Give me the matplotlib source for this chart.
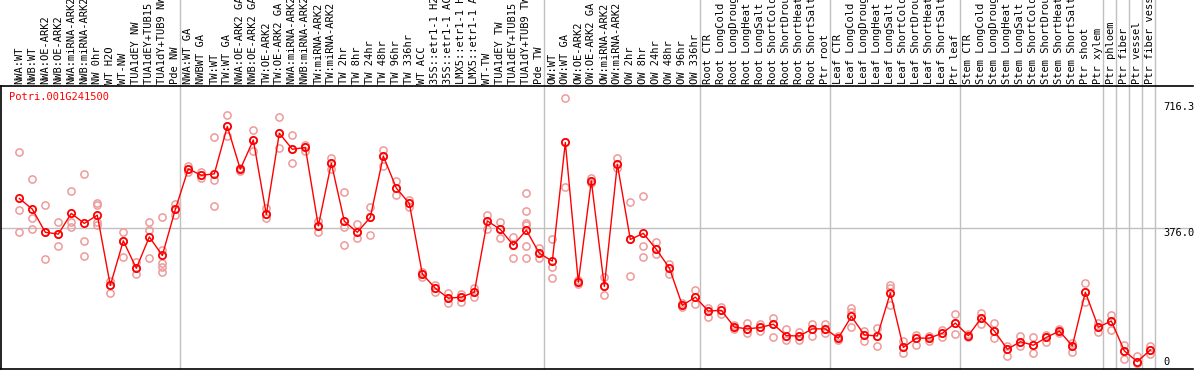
import numpy as np
import matplotlib
matplotlib.use("Agg")
import matplotlib.pyplot as plt
import matplotlib.transforms as mtransforms

# Sample labels (one per column)
labels = [
    "NWA:WT", "NWB:WT", "NWA:OE-ARK2", "NWB:OE-ARK2", "NWA:miRNA-ARK2",
    "NWB:miRNA-ARK2", "NW 0hr", "WT H2O", "WT-NW", "TUA1dEY NW",
    "TUA1dEY+TUB15 NW", "TUA1dY+TUB9 NW", "Pde NW",
    "NWA:WT GA", "NWBWT GA", "TW:WT", "TW:WT GA", "NWA:OE-ARK2 GA",
    "NWB:OE-ARK2 GA", "TW:OE-ARK2", "TW:OE-ARK2 GA", "NWA:miRNA-ARK2 GA",
    "NWB:miRNA-ARK2 GA", "TW:miRNA-ARK2", "TW:miRNA-ARK2 GA", "TW 2hr",
    "TW 8hr", "TW 24hr", "TW 48hr", "TW 96hr", "TW 336hr", "WT ACC",
    "35S::etr1-1 H2O", "35S::etr1-1 ACC", "LMX5::etr1-1 H2O",
    "LMX5::etr1-1 ACC", "WT-TW", "TUA1dEY TW", "TUA1dEY+TUB15 TW",
    "TUA1dY+TUB9 TW", "Pde TW",
    "OW:WT", "OW:WT GA", "OW:OE-ARK2", "OW:OE-ARK2 GA", "OW:miRNA-ARK2",
    "OW:miRNA-ARK2 GA", "OW 2hr", "OW 8hr", "OW 24hr", "OW 48hr", "OW 96hr",
    "OW 336hr",
    "Root CTR", "Root LongCold", "Root LongDrought", "Root LongHeat",
    "Root LongSalt", "Root ShortCold", "Root ShortDrought", "Root ShortHeat",
    "Root ShortSalt", "Ptr root",
    "Leaf CTR", "Leaf LongCold", "Leaf LongDrought", "Leaf LongHeat",
    "Leaf LongSalt", "Leaf ShortCold", "Leaf ShortDrought", "Leaf ShortHeat",
    "Leaf ShortSalt", "Ptr leaf",
    "Stem CTR", "Stem LongCold", "Stem LongDrought", "Stem LongHeat",
    "Stem LongSalt", "Stem ShortCold", "Stem ShortDrought", "Stem ShortHeat",
    "Stem ShortSalt", "Ptr shoot", "Ptr xylem",
    "Ptr phloem", "Ptr fiber", "Ptr vessel", "Ptr fiber vessel",
]

# number of columns in each block (separated by grey lines)
group_sizes = [13, 28, 12, 10, 10, 11, 1, 1, 1, 1]

# mean expression per sample
means = [
    459, 429, 364, 359, 417, 389, 412, 215, 340, 263, 351, 299, 428,
    542, 524, 528, 661, 541, 623, 414, 642, 597, 602, 382, 558, 395, 364,
    406, 578, 488, 445, 247, 207, 179, 182, 196, 396, 372, 328, 370, 305,
    283, 616, 224, 508, 212, 555, 344, 361, 316, 264, 159, 182,
    143, 145, 98, 93, 97, 106, 74, 73, 93, 93,
    67, 128, 76, 73, 194, 41, 67, 67, 81, 109,
    74, 124, 87, 36, 57, 47, 69, 87, 45, 196, 98,
    115, 31, 1, 34,
]

# individual replicates per sample
replicates = [
    [588, 426, 364], [513, 403, 372], [440, 288, 364], [392, 325, 359],
    [480, 394, 380], [527, 340, 297], [445, 441, 394, 384], [228, 193, 215],
    [364, 294, 340], [281, 246, 263], [392, 370, 292],
    [407, 314, 277, 267, 252], [443, 412, 428],
    [534, 542, 550], [524, 533, 516], [631, 511, 437], [692, 634, 661],
    [541, 544, 536], [650, 593, 623], [431, 403, 414], [687, 600, 642],
    [637, 558, 597], [609, 593, 602], [396, 366, 382], [572, 542, 558],
    [476, 380, 328], [386, 347, 364], [435, 356, 406], [594, 551, 578],
    [509, 468, 488], [455, 435, 445], [253, 239, 247], [216, 197, 207],
    [193, 165, 179], [190, 169, 182], [207, 183, 196], [412, 372, 396],
    [392, 349, 372], [352, 291, 328], [473, 424, 389, 325, 291, 384],
    [319, 291, 305],
    [345, 267, 235], [740, 492, 616], [224, 230, 219], [515, 502, 508],
    [239, 188, 212], [572, 555, 544], [448, 241, 344], [465, 325, 294],
    [337, 302, 316], [275, 246, 264], [165, 154, 159], [202, 164, 182],
    [151, 125, 143], [155, 135, 145], [104, 93, 98], [109, 81, 93],
    [88, 107, 97], [123, 69, 106], [93, 62, 74], [85, 62, 73],
    [107, 73, 93], [107, 81, 93],
    [73, 62, 67], [151, 141, 97], [88, 60, 76], [95, 45, 73],
    [216, 160, 208], [60, 26, 41], [76, 48, 67], [73, 59, 67],
    [90, 69, 81], [135, 79, 109],
    [79, 70, 74], [138, 107, 124], [109, 67, 87], [45, 18, 36],
    [73, 45, 57], [69, 24, 47], [57, 76, 69], [93, 81, 87],
    [54, 29, 45], [221, 168, 196], [110, 85, 98],
    [132, 90, 115], [48, 8, 31], [17, -2, -2], [45, 22, 34],
]

gene = "Potri.001G241500"
scale_ticks = [0, 376.0, 716.3]

W, H = 1194, 370
fig = plt.figure(figsize=(W / 100, H / 100), dpi=100)
ax = fig.add_axes([1 / W, 1 / H, 1192 / W, 283 / H])

x = np.arange(len(labels))
ax.set_xlim(-1.408, 90.28)
ax.set_ylim(-19.6, 774.5)

mono = "DejaVu Sans Mono"
fs = 7.5

# group separators, running up through the label area
extend = 369 / 283
for b in np.cumsum(group_sizes) - 0.62:
    ax.axvline(b, ymin=0, ymax=extend, color="#c0c0c0", lw=1, clip_on=False, zorder=1)

ax.axhline(376.0, color="#c0c0c0", lw=1, zorder=1)

# replicates
for i, reps in enumerate(replicates):
    ax.plot([i] * len(reps), reps, "o", ms=5.2, mfc="none", mec="#ee9a9a",
            mew=1.1, zorder=2)

# means
ax.plot(x, means, "-", color="red", lw=1, zorder=3)
ax.plot(x, means, "o", ms=5.2, mfc="none", mec="red", mew=1.3, zorder=4)

for s in ["top", "bottom", "left"]:
    ax.spines[s].set_linewidth(1.2)
ax.spines["right"].set_visible(False)
ax.set_xticks([])
ax.set_yticks([])

# rotated sample labels above the plot
trans = mtransforms.blended_transform_factory(ax.transData, ax.transAxes)
for i, lab in enumerate(labels):
    ax.annotate(lab, xy=(i, 1), xycoords=trans, xytext=(0, 2.5),
                textcoords="offset pixels", rotation=90, ha="center",
                va="bottom", family=mono, fontsize=fs, annotation_clip=False)

# gene name
fig.text(9.5 / W, 1 - 96.7 / H, gene, color="red", family=mono, fontsize=fs,
         ha="left", va="center")

# value scale on the right
tx = (1163 - 1) / 1192
tr2 = mtransforms.blended_transform_factory(ax.transAxes, ax.transData)
ax.text(tx, scale_ticks[2], "%.1f" % scale_ticks[2], transform=tr2,
        family=mono, fontsize=fs, va="center", ha="left")
ax.text(tx, scale_ticks[1], "%.1f" % scale_ticks[1], transform=tr2,
        family=mono, fontsize=fs, va="top", ha="left")
ax.text(tx, scale_ticks[0], "%d" % scale_ticks[0], transform=tr2,
        family=mono, fontsize=fs, va="center", ha="left")

fig.savefig("out.png", dpi=100)
